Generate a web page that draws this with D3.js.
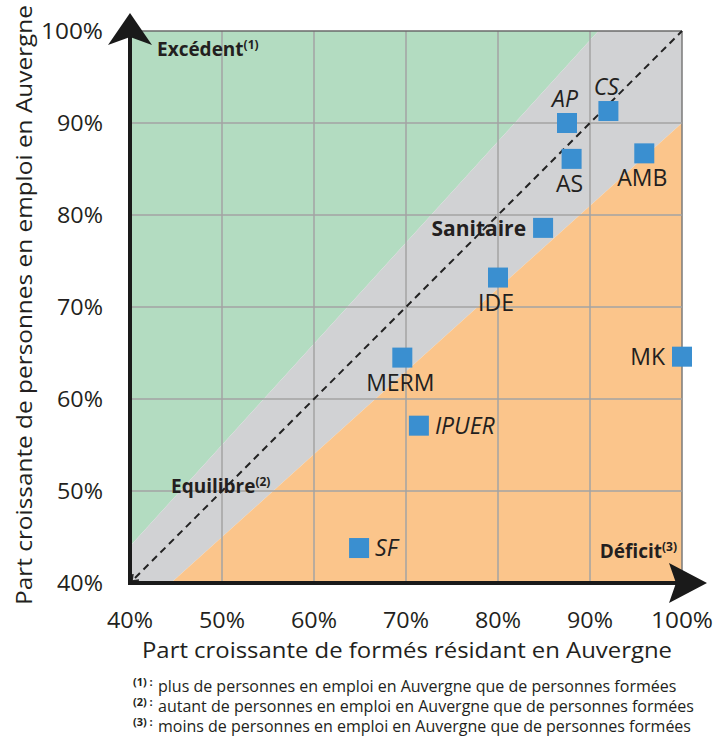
<!DOCTYPE html>
<html>
<head>
<meta charset="utf-8">
<script src="https://cdn.jsdelivr.net/npm/d3@7"></script>
<style>
  body { margin: 0; background: #fff; }
  svg { display: block; font-family: 'Open Sans', sans-serif; }
</style>
</head>
<body>
<svg width="713" height="740"></svg>
<script>
// Data
const metiers = ['Sanitaire', 'IDE', 'MERM', 'IPUER', 'MK', 'AP', 'CS', 'AS', 'AMB', 'SF']
const formes = [84.9, 80.0, 69.6, 71.4, 100, 87.5, 92.0, 88.0, 95.9, 64.9]
const emplois = [78.6, 73.2, 64.5, 57.1, 64.6, 90.0, 91.3, 86.1, 86.7, 43.8]
const ticks = [40, 50, 60, 70, 80, 90, 100]
const seuils = [0.9, 1.1]
const notes = [
    'plus de personnes en emploi en Auvergne que de personnes formées',
    'autant de personnes en emploi en Auvergne que de personnes formées',
    'moins de personnes en emploi en Auvergne que de personnes formées'
]

const svg = d3.select('svg')
const pLeft = 130, pRight = 682, pTop = 31, pBottom = 583

const xScale = d3.scaleLinear().domain([40, 100]).range([pLeft, pRight])
const yScale = d3.scaleLinear().domain([40, 100]).range([pBottom, pTop])

// zones
const lo = seuils[0], hi = seuils[1]
const zones = [
    { fill: '#b3dcc1', pts: [[40, 40 * hi], [40, 100], [100 / hi, 100]] },
    { fill: '#d1d2d4', pts: [[40, 40], [40 / lo, 40], [100, 100 * lo], [100, 100], [100 / hi, 100], [40, 40 * hi]] },
    { fill: '#fbc58b', pts: [[40 / lo, 40], [100, 40], [100, 100 * lo]] }
]
svg.selectAll('polygon.zone')
    .data(zones)
    .enter()
    .append('polygon')
    .attr('class', 'zone')
    .attr('fill', d => d.fill)
    .attr('points', d => d.pts.map(p => xScale(p[0]) + ',' + yScale(p[1])).join(' '))

// grid
const grid = svg.append('g')
grid.selectAll('line.gx')
    .data(ticks.slice(1))
    .enter()
    .append('line')
    .attr('x1', d => xScale(d)).attr('x2', d => xScale(d))
    .attr('y1', pTop).attr('y2', pBottom)
    .attr('stroke', d => d === 100 ? '#7a7a7a' : '#a3a3a3')
    .attr('stroke-width', 1.5)
grid.selectAll('line.gy')
    .data(ticks.slice(1))
    .enter()
    .append('line')
    .attr('y1', d => yScale(d)).attr('y2', d => yScale(d))
    .attr('x1', pLeft).attr('x2', pRight)
    .attr('stroke', d => d === 100 ? '#6a6a6a' : '#a3a3a3')
    .attr('stroke-width', 1.5)

// diagonal
svg.append('line')
    .attr('x1', xScale(40) + 5).attr('y1', yScale(40) - 5)
    .attr('x2', xScale(100)).attr('y2', yScale(100))
    .attr('stroke', '#222')
    .attr('stroke-width', 2)
    .attr('stroke-dasharray', '7,5')
svg.append('path')
    .attr('d', `M${xScale(40) + 2},${yScale(40) - 2} l1,-7 M${xScale(40) + 2},${yScale(40) - 2} l7,-1`)
    .attr('stroke', '#222').attr('stroke-width', 1.5).attr('fill', 'none')

// axes
svg.append('line').attr('x1', pLeft).attr('x2', pLeft).attr('y1', pBottom + 2).attr('y2', 30)
    .attr('stroke', '#1a1a1a').attr('stroke-width', 4)
svg.append('line').attr('x1', pLeft - 2).attr('x2', 690).attr('y1', pBottom).attr('y2', pBottom)
    .attr('stroke', '#1a1a1a').attr('stroke-width', 4)
svg.append('path')
    .attr('d', `M${pLeft},13 L${pLeft + 22},45 L${pLeft},37 L${pLeft - 22},45 Z`)
    .attr('fill', '#1a1a1a')
svg.append('path')
    .attr('d', `M707,${pBottom} L669,${pBottom + 20} L676,${pBottom} L669,${pBottom - 20} Z`)
    .attr('fill', '#1a1a1a')

// tick labels
svg.selectAll('text.ty')
    .data(ticks)
    .enter()
    .append('text')
    .attr('x', 103)
    .attr('y', d => yScale(d) + 8)
    .attr('text-anchor', 'end')
    .attr('font-size', 22)
    .attr('textLength', d => d === 100 ? 62 : 46).attr('lengthAdjust', 'spacingAndGlyphs')
    .attr('fill', '#231f20')
    .text(d => d + '%')
svg.selectAll('text.tx')
    .data(ticks)
    .enter()
    .append('text')
    .attr('x', d => xScale(d))
    .attr('y', 628)
    .attr('text-anchor', 'middle')
    .attr('font-size', 21)
    .attr('textLength', d => d === 100 ? 62 : 46).attr('lengthAdjust', 'spacingAndGlyphs')
    .attr('fill', '#231f20')
    .text(d => d + '%')

// axis titles
svg.append('text')
    .attr('x', 407).attr('y', 658)
    .attr('text-anchor', 'middle')
    .attr('font-size', 21)
    .attr('textLength', 530).attr('lengthAdjust', 'spacingAndGlyphs')
    .attr('fill', '#231f20')
    .text('Part croissante de formés résidant en Auvergne')
svg.append('text')
    .attr('transform', 'translate(32,305) rotate(-90)')
    .attr('text-anchor', 'middle')
    .attr('font-size', 22)
    .attr('textLength', 600).attr('lengthAdjust', 'spacingAndGlyphs')
    .attr('fill', '#231f20')
    .text('Part croissante de personnes en emploi en Auvergne')

// zone labels
const zoneLabel = (x, y, anchor, txt, n) => {
    const t = svg.append('text')
        .attr('x', x).attr('y', y)
        .attr('text-anchor', anchor)
        .attr('font-size', 19).attr('font-weight', 'bold')
        .attr('fill', '#231f20')
    t.append('tspan').text(txt)
    t.append('tspan').attr('font-size', 12).attr('dy', -7).text('(' + n + ')')
}
zoneLabel(157, 56, 'start', 'Excédent', 1)
zoneLabel(171, 493, 'start', 'Equilibre', 2)
zoneLabel(677, 558, 'end', 'Déficit', 3)

// points
const sz = 20
const italique = ['AP', 'CS', 'IPUER', 'SF']
const placement = {
    Sanitaire: 'left', IDE: 'below', MERM: 'below', IPUER: 'right', MK: 'left',
    AP: 'above', CS: 'above', AS: 'below', AMB: 'below', SF: 'right'
}
const points = metiers.map((m, i) => ({ m, x: formes[i], y: emplois[i] }))

svg.selectAll('rect.pt')
    .data(points)
    .enter()
    .append('rect')
    .attr('class', 'pt')
    .attr('x', d => xScale(d.x) - sz / 2)
    .attr('y', d => yScale(d.y) - sz / 2)
    .attr('width', sz).attr('height', sz)
    .attr('fill', '#3a8fd0')

svg.selectAll('text.lbl')
    .data(points)
    .enter()
    .append('text')
    .attr('class', 'lbl')
    .attr('font-size', d => d.m === 'Sanitaire' ? 21 : 23)
    .attr('font-weight', d => d.m === 'Sanitaire' ? 'bold' : 'normal')
    .attr('font-style', d => italique.includes(d.m) ? 'italic' : 'normal')
    .attr('fill', '#231f20')
    .attr('text-anchor', d => {
        const p = placement[d.m]
        return p === 'left' ? 'end' : p === 'right' ? 'start' : 'middle'
    })
    .attr('x', d => {
        const p = placement[d.m], cx = xScale(d.x)
        return p === 'left' ? cx - 17 : p === 'right' ? cx + 16 : cx - 2
    })
    .attr('y', d => {
        const p = placement[d.m], cy = yScale(d.y)
        return p === 'above' ? cy - 16 : p === 'below' ? cy + 33 : cy + 8
    })
    .text(d => d.m)

// footnotes
notes.forEach((n, i) => {
    const y = 692 + i * 20
    svg.append('text')
        .attr('x', 133).attr('y', y - 6)
        .attr('font-size', 11).attr('font-weight', 'bold')
        .attr('fill', '#231f20')
        .text('(' + (i + 1) + ') :')
    svg.append('text')
        .attr('x', 158).attr('y', y)
        .attr('font-size', 16)
        .attr('fill', '#231f20')
        .text(n)
})
</script>
</body>
</html>
